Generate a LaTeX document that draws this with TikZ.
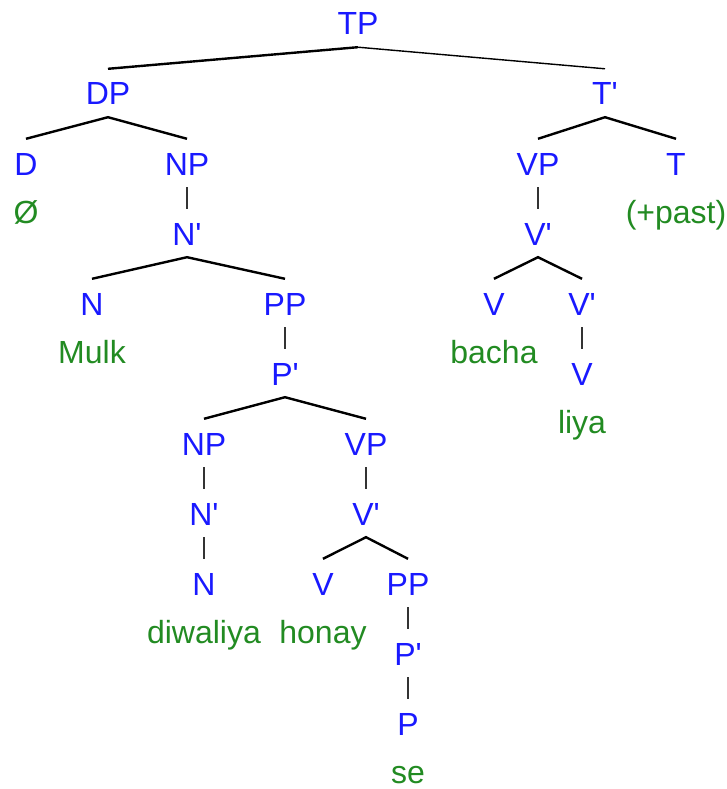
\documentclass[tikz,border=0pt]{standalone}
\usepackage{fontspec}
\newfontfamily\labfont{Liberation Sans}
\definecolor{catblue}{RGB}{25,25,255}
\definecolor{wordgreen}{RGB}{34,139,34}
\begin{document}
\begin{tikzpicture}[x=1pt,y=-1pt,
  cat/.style={font=\labfont\fontsize{32}{38}\selectfont, text=catblue, anchor=base,
    text height=24pt, text depth=0pt, inner xsep=2pt, inner ysep=12pt},
  word/.style={font=\labfont\fontsize{32}{38}\selectfont, text=wordgreen, anchor=base, inner sep=0pt},
  branch/.style={line width=2.4pt, black},
  thinbranch/.style={line width=1.4pt, black},
  stem/.style={line width=1.6pt, black!80}]
\useasboundingbox (0,0) rectangle (727,789);
% categories
\node[cat] (tp) at (358,35) {TP};
\node[cat] (dp) at (108,105) {DP};
\node[cat] (tbar) at (605,105) {T'};
\node[cat] (d) at (26,175) {D};
\node[cat] (np1) at (187,175) {NP};
\node[cat] (vp1) at (538,175) {VP};
\node[cat] (t) at (676,175) {T};
\node[cat] (nbar1) at (187,245) {N'};
\node[cat] (vbar1) at (538,245) {V'};
\node[cat] (n1) at (92,315) {N};
\node[cat] (pp1) at (285,315) {PP};
\node[cat] (v1) at (494,315) {V};
\node[cat] (vbar2) at (582,315) {V'};
\node[cat] (pbar1) at (285,385) {P'};
\node[cat] (v2) at (582,385) {V};
\node[cat] (np2) at (204,455) {NP};
\node[cat] (vp2) at (366,455) {VP};
\node[cat] (nbar2) at (204,525) {N'};
\node[cat] (vbar3) at (366,525) {V'};
\node[cat] (n2) at (204,595) {N};
\node[cat] (v3) at (323,595) {V};
\node[cat] (pp2) at (408,595) {PP};
\node[cat] (pbar2) at (408,665) {P'};
\node[cat] (p) at (408,735) {P};
% words
\node[word] (null) at (26,223) {Ø};
\node[word] (past) at (676,223) {(+past)};
\node[word] (mulk) at (92,363) {Mulk};
\node[word] (bacha) at (494,363) {bacha};
\node[word] (liya) at (582,433) {liya};
\node[word] (diwaliya) at (204,643) {diwaliya};
\node[word] (honay) at (323,643) {honay};
\node[word] (se) at (408,783) {se};
% branches
\draw[branch] (dp.north) -- (tp.south);
\draw[thinbranch] (tp.south) -- (tbar.north);
\draw[branch] (d.north) -- (dp.south) -- (np1.north);
\draw[branch] (vp1.north) -- (tbar.south) -- (t.north);
\draw[branch] (n1.north) -- (nbar1.south) -- (pp1.north);
\draw[branch] (v1.north) -- (vbar1.south) -- (vbar2.north);
\draw[branch] (np2.north) -- (pbar1.south) -- (vp2.north);
\draw[branch] (v3.north) -- (vbar3.south) -- (pp2.north);
% stems
\draw[stem] (np1.south) -- (nbar1.north);
\draw[stem] (vp1.south) -- (vbar1.north);
\draw[stem] (pp1.south) -- (pbar1.north);
\draw[stem] (vbar2.south) -- (v2.north);
\draw[stem] (np2.south) -- (nbar2.north);
\draw[stem] (vp2.south) -- (vbar3.north);
\draw[stem] (nbar2.south) -- (n2.north);
\draw[stem] (pp2.south) -- (pbar2.north);
\draw[stem] (pbar2.south) -- (p.north);
\end{tikzpicture}
\end{document}
